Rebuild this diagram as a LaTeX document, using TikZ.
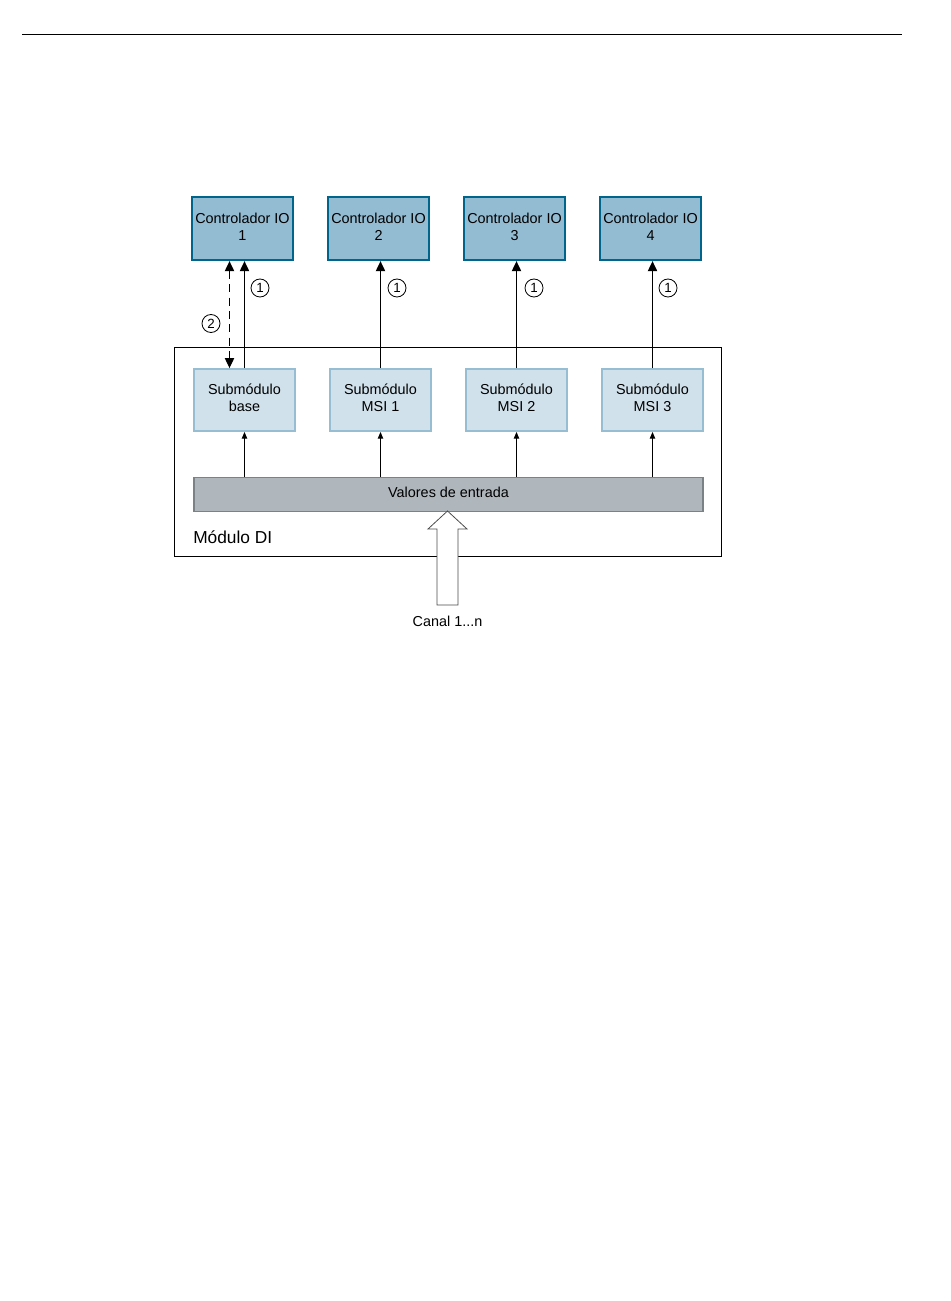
\documentclass[tikz,border=0pt]{standalone}
\usepackage{fontspec}
\setmainfont{Liberation Sans}
\usetikzlibrary{arrows.meta}

\definecolor{ctrlfill}{HTML}{93BBD2}
\definecolor{ctrlline}{HTML}{00658A}
\definecolor{subfill}{HTML}{D1E1EB}
\definecolor{subline}{HTML}{97BDD3}
\definecolor{barfill}{HTML}{AFB6BC}
\definecolor{barline}{HTML}{7B8287}

\newcommand{\twolines}[2]{\raisebox{1.5pt}{\begin{tabular}{@{}c@{}}#1\\#2\end{tabular}}}

\begin{document}
\begin{tikzpicture}[x=0.75pt, y=-0.75pt, every node/.style={font=\fontsize{10.8pt}{12.8pt}\selectfont},
	ctrlbox/.style={draw=ctrlline, fill=ctrlfill, line width=1.5pt, minimum width=76pt, minimum height=47.5pt, inner sep=0pt},
	subbox/.style={draw=subline, fill=subfill, line width=1.4pt, minimum width=76pt, minimum height=46.5pt, inner sep=0pt},
	numcirc/.style={draw, circle, line width=0.6pt, inner sep=0pt, minimum size=13.5pt, font=\fontsize{10pt}{10pt}\selectfont},
	link/.style={line width=0.75pt, -{Triangle[width=7pt,length=7.5pt]}},
	feed/.style={line width=0.75pt, -{Triangle[width=4pt,length=5pt]}}]
	
	\useasboundingbox (0,0) rectangle (950,1301);
	
	\draw[line width=0.75pt] (22,35) -- (902,35);
	
	% module frame
	\draw[line width=0.75pt] (174,348) rectangle (721,556);
	\node[anchor=west, inner sep=0pt, font=\fontsize{13pt}{15pt}\selectfont] (modlabel) at (193,537) {Módulo DI};
	
	% IO controllers
	\node[ctrlbox] (ctrl1) at (242.5,228.5) {\twolines{Controlador IO}{1}};
	\node[ctrlbox] (ctrl2) at (378.5,228.5) {\twolines{Controlador IO}{2}};
	\node[ctrlbox] (ctrl3) at (514.5,228.5) {\twolines{Controlador IO}{3}};
	\node[ctrlbox] (ctrl4) at (650.5,228.5) {\twolines{Controlador IO}{4}};
	
	% submodules
	\node[subbox] (sub1) at (244.5,400) {\twolines{Submódulo}{base}};
	\node[subbox] (sub2) at (380.5,400) {\twolines{Submódulo}{MSI 1}};
	\node[subbox] (sub3) at (516.5,400) {\twolines{Submódulo}{MSI 2}};
	\node[subbox] (sub4) at (652.5,400) {\twolines{Submódulo}{MSI 3}};
	
	% input values
	\node[draw=barline, fill=barfill, line width=1.4pt, minimum width=382pt, minimum height=25.5pt, inner sep=0pt] (values) at (448.5,494.5) {\raisebox{3pt}{Valores de entrada}};
	
	\foreach \i in {1,...,4}{
		\draw[link] (sub\i.north) -- (sub\i.north |- ctrl\i.south);
		\draw[feed] (sub\i.south |- values.north) -- (sub\i.south);
	}
	\draw[line width=0.75pt, dash pattern=on 6pt off 4pt, {Triangle[width=7pt,length=7.5pt]}-{Triangle[width=7pt,length=7.5pt]}] ([xshift=-11.25pt]sub1.north |- ctrl1.south) -- ([xshift=-11.25pt]sub1.north);
	
	\node[numcirc] (n1a) at (260,288) {1};
	\node[numcirc] (n1b) at (397,288) {1};
	\node[numcirc] (n1c) at (534,288) {1};
	\node[numcirc] (n1d) at (668,288) {1};
	\node[numcirc] (n2) at (211,323.5) {2};
	
	% channel input
	\node (canal) at (447.5,621) {Canal 1...n};
	\coordinate (tip) at (447.5,511);
	\draw[fill=white, draw=black!70, line width=0.6pt] (tip) -- (467,529) -- (458,529) -- (458,605) -- (437,605) -- (437,529) -- (428,529) -- cycle;
	
\end{tikzpicture}
\end{document}
